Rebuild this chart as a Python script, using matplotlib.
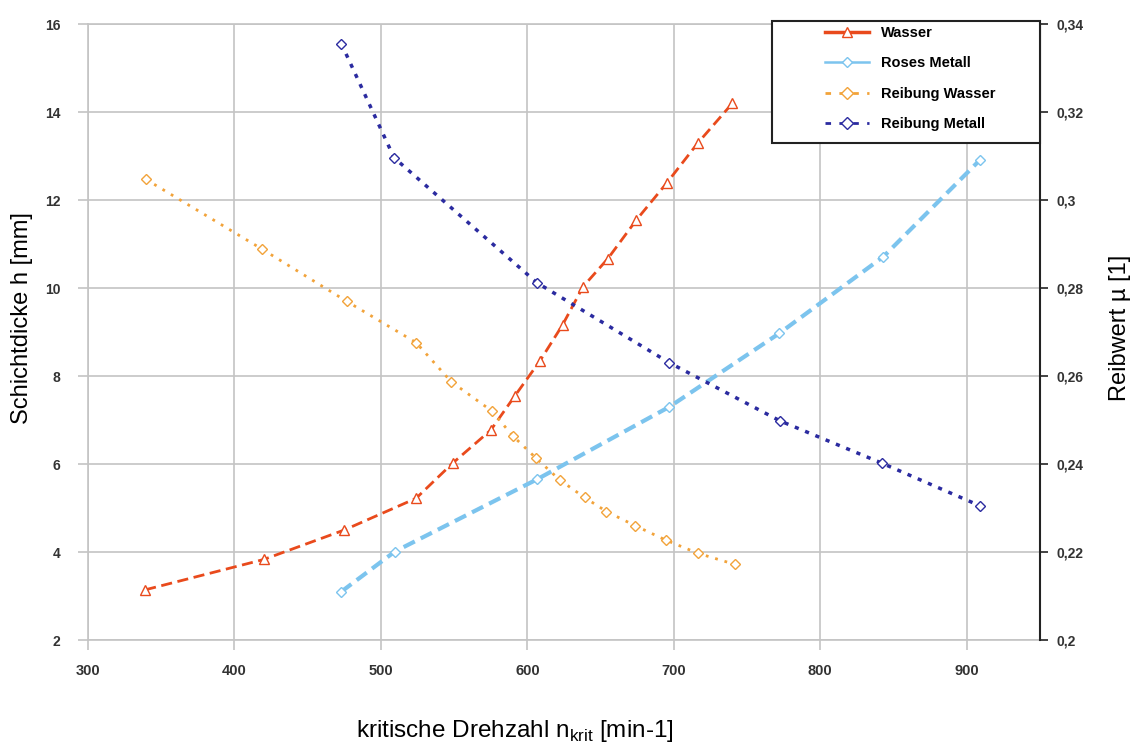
import matplotlib
matplotlib.use("Agg")
import matplotlib.pyplot as plt
from matplotlib.lines import Line2D
from matplotlib.patches import Rectangle
from matplotlib.ticker import FuncFormatter

plt.rcParams['font.family'] = ['Liberation Sans', 'DejaVu Sans']

# Schichtdicke (linke Achse)
wasser_n = [339, 420, 475, 524, 549, 575, 591.5, 608.5, 624, 638, 655, 674.5, 695, 716.5, 740]
wasser_h = [3.14, 3.83, 4.50, 5.22, 6.02, 6.77, 7.55, 8.34, 9.16, 10.03, 10.67, 11.55, 12.38, 13.30, 14.20]

metall_n = [473, 509.5, 606.5, 697, 772, 843, 909]
metall_h = [3.10, 4.01, 5.65, 7.30, 8.97, 10.71, 12.91]

# Reibwert (rechte Achse)
reib_wasser_n = [339.5, 419, 476.5, 524, 548, 575.5, 590, 606, 622, 639, 654, 673.5, 694.5, 716.5, 741.5]
reib_wasser_mu = [0.3047, 0.2888, 0.2770, 0.2676, 0.2587, 0.2521, 0.2464, 0.2413, 0.2364,
                  0.2324, 0.2292, 0.2260, 0.2227, 0.2197, 0.2172]

reib_metall_n = [473, 509, 606.5, 697, 772.5, 842, 909]
reib_metall_mu = [0.3355, 0.3096, 0.2812, 0.2630, 0.2498, 0.2402, 0.2305]

labels = ["Wasser", "Roses Metall", "Reibung Wasser", "Reibung Metall"]

c_wasser = "#e94a1c"
c_metall = "#7cc4ee"
c_rw = "#f2a33a"
c_rm = "#2b2ba0"
grid_c = "#c4c4c4"

W, H = 1135, 747
fig = plt.figure(figsize=(W / 100, H / 100), dpi=100)
ax = fig.add_axes([88 / W, 107 / H, 952 / W, 616 / H])
ax2 = ax.twinx()

ax.plot(wasser_n, wasser_h, color=c_wasser, lw=2, dashes=(4, 2), marker="^",
        ms=7, mfc="white", mec=c_wasser, mew=1, zorder=3)
ax.plot(metall_n, metall_h, color=c_metall, lw=3, dashes=(3, 1.6), marker="D",
        ms=5, mfc="white", mec=c_metall, mew=1, zorder=3)
ax2.plot(reib_wasser_n, reib_wasser_mu, color=c_rw, lw=2, dashes=(1, 2.5), marker="D",
         ms=5.5, mfc="white", mec=c_rw, mew=1)
ax2.plot(reib_metall_n, reib_metall_mu, color=c_rm, lw=2.5, dashes=(1.2, 2), marker="D",
         ms=5.5, mfc="white", mec=c_rm, mew=1)

ax.set_xlim(300, 950)
ax.set_ylim(2, 16)
ax.set_xticks(range(300, 1000, 100))
ax.set_yticks(range(2, 18, 2))
ax2.set_ylim(0.2, 0.34)
ax2.set_yticks([0.2, 0.22, 0.24, 0.26, 0.28, 0.3, 0.32, 0.34])
ax2.yaxis.set_major_formatter(FuncFormatter(lambda v, p: ("%g" % round(v, 2)).replace(".", ",")))

ax.grid(True, color=grid_c, lw=1.2)
ax.set_axisbelow(True)
for s in ["left", "bottom", "top"]:
    ax.spines[s].set_color(grid_c)
    ax.spines[s].set_linewidth(1.2)
    ax2.spines[s].set_visible(False)
ax.spines["right"].set_visible(False)
ax2.spines["right"].set_color("#222222")
ax2.spines["right"].set_linewidth(1.5)

ax.tick_params(axis="both", color=grid_c, length=7, width=1.2)
ax.tick_params(axis="y", pad=13)
ax.tick_params(axis="x", pad=10)
ax2.tick_params(axis="y", color="#222222", length=6, width=1.2, pad=6)
for lab in ax.get_yticklabels() + ax2.get_yticklabels():
    lab.set_fontweight("bold")
    lab.set_fontsize(10)
    lab.set_color("#333333")
for lab in ax.get_xticklabels():
    lab.set_fontweight("bold")
    lab.set_fontsize(10.5)
    lab.set_color("#333333")

fig.text(22 / W, 1 - 318 / H, "Schichtdicke h [mm]", rotation=90, ha="center", va="center", fontsize=17)
fig.text(1120 / W, 1 - 328 / H, "Reibwert µ [1]", rotation=90, ha="center", va="center", fontsize=17)
fig.text(515 / W, 1 - 731 / H, r"kritische Drehzahl n$_{\mathregular{krit}}$ [min-1]",
         ha="center", va="center", fontsize=17.5)

# legend box like the original
fig.patches.append(Rectangle((772 / W, 1 - 143 / H), 268 / W, 122 / H, transform=fig.transFigure,
                             facecolor="white", edgecolor="#222222", lw=1.5, zorder=4))
handles = [
    Line2D([], [], color=c_wasser, lw=2.5, marker="^", ms=7, mfc="white", mec=c_wasser),
    Line2D([], [], color=c_metall, lw=1.8, marker="D", ms=5, mfc="white", mec=c_metall),
    Line2D([], [], color=c_rw, lw=2, dashes=(2, 3), marker="D", ms=6, mfc="white", mec=c_rw),
    Line2D([], [], color=c_rm, lw=2, dashes=(2, 3), marker="D", ms=6, mfc="white", mec=c_rm),
]
leg = fig.legend(handles, labels, loc="upper left", bbox_to_anchor=(825 / W, 1 - 26 / H),
                 frameon=False, borderpad=0, borderaxespad=0, handlelength=3.0,
                 handletextpad=0.85, labelspacing=1.13, prop=dict(weight="bold", size=10.5))
leg.set_zorder(5)

fig.savefig("out.png", dpi=100)
